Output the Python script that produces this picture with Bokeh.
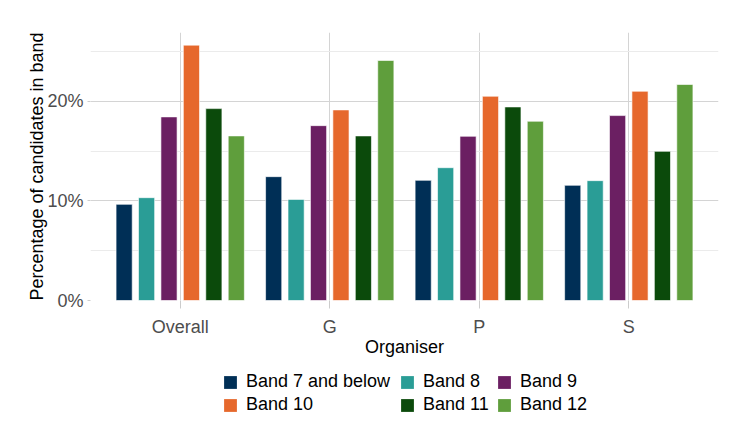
from bokeh.plotting import figure
from bokeh.layouts import column
from bokeh.models import (ColumnDataSource, Range1d, FixedTicker, PrintfTickFormatter,
                          Legend, LegendItem)
from bokeh.transform import dodge
from bokeh.embed import file_html
from bokeh.resources import INLINE

# data (percent of candidates in each band, per organiser)
organisers = ["Overall", "G", "P", "S"]
bands = ["Band 7 and below", "Band 8", "Band 9", "Band 10", "Band 11", "Band 12"]
band7 = [9.65, 12.43, 12.06, 11.56]
band8 = [10.32, 10.15, 13.33, 12.03]
band9 = [18.43, 17.55, 16.48, 18.56]
band10 = [25.63, 19.13, 20.50, 21.00]
band11 = [19.26, 16.52, 19.43, 14.97]
band12 = [16.52, 24.09, 17.99, 21.68]
y_ticks = [0, 10, 20]
y_minor = [5, 15, 25]

colors = ["#002f56", "#2a9d96", "#6b1f62", "#e6682c", "#0b4a0b", "#5f9e3c"]
series = [band7, band8, band9, band10, band11, band12]

FONT = "Liberation Sans"

x_pos = list(range(1, len(organisers) + 1))
src = ColumnDataSource(dict(x=x_pos, **{f"b{i}": s for i, s in enumerate(series)}))

p = figure(width=736, height=362, output_backend="svg", toolbar_location=None,
           x_range=Range1d(0.4, len(organisers) + 0.6), y_range=Range1d(0, 26.9),
           min_border_left=90, min_border_right=18, min_border_top=32,
           min_border_bottom=62)
p.outline_line_color = None

slot = 0.15
for i, name in enumerate(bands):
    p.vbar(x=dodge("x", (i - 2.5) * slot, range=p.x_range), top=f"b{i}",
           width=0.108, source=src, fill_color=colors[i],
           line_color="white", line_alpha=0.6, line_width=1)

# axes
p.xaxis.ticker = FixedTicker(ticks=x_pos)
p.xaxis.major_label_overrides = {x: lab for x, lab in zip(x_pos, organisers)}
p.yaxis.ticker = FixedTicker(ticks=y_ticks, minor_ticks=y_minor)
p.yaxis.formatter = PrintfTickFormatter(format="%d%%")
p.xaxis.axis_label = "Organiser"
p.yaxis.axis_label = "Percentage of candidates in band"

for ax in (p.xaxis, p.yaxis):
    ax.axis_line_color = None
    ax.minor_tick_line_color = None
    ax.major_tick_line_color = "#cccccc"
    ax.major_tick_in = 0
    ax.major_label_text_font = FONT
    ax.major_label_text_font_size = "18px"
    ax.major_label_text_color = "#4d4d4d"
    ax.axis_label_text_font = FONT
    ax.axis_label_text_font_size = "18px"
    ax.axis_label_text_font_style = "normal"
    ax.axis_label_text_color = "black"

p.xaxis.major_tick_out = 8
p.xaxis.major_label_standoff = 8
p.xaxis.axis_label_standoff = -3
p.yaxis.major_tick_out = 3
p.yaxis.major_label_standoff = 3
p.yaxis.axis_label_standoff = -3

# grid
p.xgrid.ticker = FixedTicker(ticks=x_pos)
p.xgrid.grid_line_color = "#d4d4d4"
p.ygrid.ticker = FixedTicker(ticks=y_ticks, minor_ticks=y_minor)
p.ygrid.grid_line_color = "#d4d4d4"
p.ygrid.minor_grid_line_color = "#ebebeb"

# legend lives in its own strip below the chart; its key renderers are
# zero-height bars placed outside the view, so only the legend shows
lg = figure(width=736, height=72, output_backend="svg", toolbar_location=None,
            x_range=Range1d(50, 51), y_range=Range1d(100, 101),
            min_border=0, x_axis_type=None, y_axis_type=None)
lg.outline_line_color = None
lg.grid.visible = False
items = []
for i, name in enumerate(bands):
    r = lg.vbar(x="x", top=f"b{i}", bottom=f"b{i}", width=0.1, source=src,
                fill_color=colors[i], line_color=None)
    items.append(LegendItem(label=name, renderers=[r]))

# three legend columns (ggplot byrow layout: 3 per row)
col_x = [132, 309, 406]
for c in range(3):
    leg = Legend(items=[items[c], items[c + 3]], orientation="vertical",
                 location=(col_x[c], 19),
                 border_line_color=None, background_fill_alpha=0,
                 glyph_width=16, glyph_height=16, label_height=16,
                 label_standoff=8, spacing=2, margin=0, padding=0,
                 label_text_font=FONT, label_text_font_size="18px",
                 label_text_color="black")
    lg.add_layout(leg, "center")

open("out.html", "w").write(file_html(column(p, lg, spacing=0), INLINE))
